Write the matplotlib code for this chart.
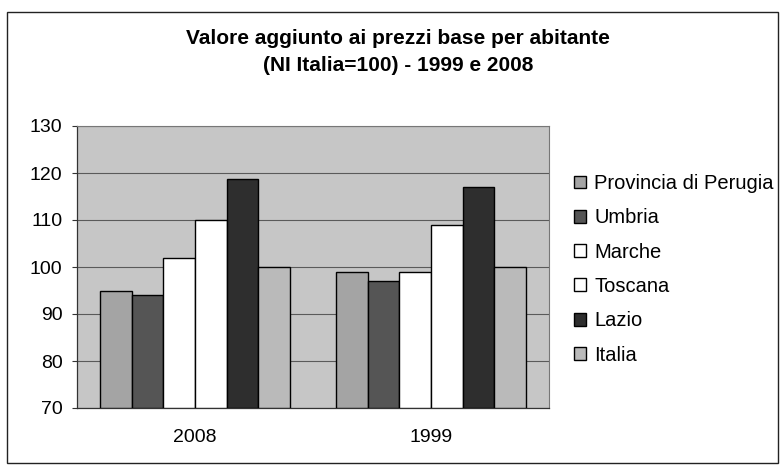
import numpy as np
import matplotlib
matplotlib.use("Agg")
import matplotlib.pyplot as plt
from matplotlib.patches import Rectangle

plt.rcParams['font.family'] = ['Liberation Sans', 'DejaVu Sans']

# --- Data ---
years = ["2008", "1999"]
series = ["Provincia di Perugia", "Umbria", "Marche", "Toscana", "Lazio", "Italia"]
perugia = [95, 99]
umbria = [94, 97]
marche = [102, 99]
toscana = [110, 109]
lazio = [118.7, 117]
italia = [100, 100]
values = [perugia, umbria, marche, toscana, lazio, italia]

colors = ["#a4a4a4", "#555555", "#ffffff", "#ffffff", "#2e2e2e", "#bababa"]
title = "Valore aggiunto ai prezzi base per abitante\n(NI Italia=100) - 1999 e 2008"

# --- Figure ---
fig = plt.figure(figsize=(7.83, 4.68), dpi=100)
fig.patch.set_facecolor("white")

# outer chart border
fig.patches.append(Rectangle((7 / 783, 1 - 463 / 468), 771 / 783, 451 / 468,
                             transform=fig.transFigure, fill=False,
                             edgecolor="#222222", linewidth=1.0))

ax = fig.add_axes([77 / 783, 1 - 408 / 468, 472 / 783, 282 / 468])
ax.set_facecolor("#c6c6c6")

x = np.arange(len(years))
group_w = 0.805
bar_w = group_w / len(series)
for i, (name, vals) in enumerate(zip(series, values)):
    offs = -group_w / 2 + bar_w * (i + 0.5)
    ax.bar(x + offs, np.array(vals) - 70, bar_w, bottom=70, color=colors[i],
           edgecolor="black", linewidth=1.0, label=name, zorder=3)

ax.set_xlim(-0.5, 1.5)
ax.set_ylim(70, 130)
ax.set_yticks(range(70, 131, 10))
ax.set_xticks(x)
ax.set_xticklabels(years)
ax.yaxis.grid(True, color="#5a5a5a", linewidth=0.8, zorder=0)
ax.set_axisbelow(True)
ax.tick_params(axis="y", labelsize=14, length=3.5, color="#333333", pad=7)
ax.tick_params(axis="x", labelsize=14, length=0, pad=15)
for s in ["top", "right"]:
    ax.spines[s].set_color("#777777")
    ax.spines[s].set_linewidth(0.8)
for s in ["left", "bottom"]:
    ax.spines[s].set_color("#333333")
    ax.spines[s].set_linewidth(0.9)

fig.text(398 / 783, 1 - 52 / 468, title, ha="center", va="center",
         fontsize=15, fontweight="bold", linespacing=1.57)

handles, labels = ax.get_legend_handles_labels()
fig.legend(handles, labels, loc="upper left",
           bbox_to_anchor=(574 / 783, 1 - 174 / 468),
           frameon=False, fontsize=14.5, handlelength=0.6, handleheight=0.6,
           handletextpad=0.4, labelspacing=0.76, borderaxespad=0,
           borderpad=0)

fig.savefig("out.png", dpi=100)
